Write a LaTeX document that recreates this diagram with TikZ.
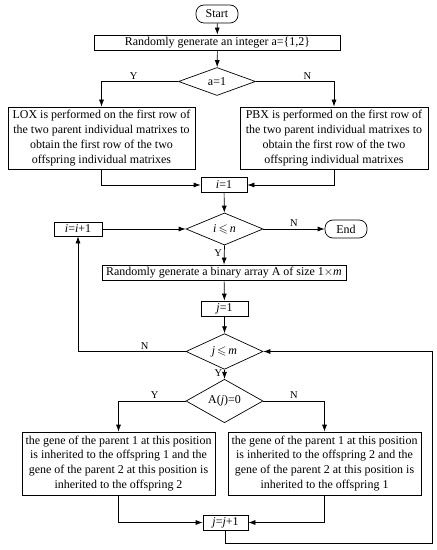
\documentclass[tikz,border=0pt]{standalone}
\usepackage{amssymb}
\usepackage{fontspec}
\setmainfont{Liberation Serif}
\usetikzlibrary{shapes.geometric,arrows.meta}

\begin{document}
\begin{tikzpicture}[x=1bp,y=-1bp,
    font=\fontsize{12}{15}\selectfont,
    line width=0.7bp,
    kasten/.style={draw, inner sep=0pt, minimum height=15bp},
    textkasten/.style={draw, inner sep=1pt, align=center, minimum height=62bp},
    raute/.style={draw, diamond, inner sep=0pt, minimum width=77bp, minimum height=28bp},
    terminal/.style={draw, rounded corners=8bp, inner sep=0pt, minimum width=42bp, minimum height=18bp},
    pfeil/.style={-{Latex[length=7bp,width=5bp]}},
    marke/.style={font=\fontsize{10.5}{12}\selectfont, inner sep=2pt}]

    % Rahmen
    \useasboundingbox (0,0) rectangle (437,550);

    % Oberer Teil
    \node[terminal] (start) at (217,14) {Start};
    \node[kasten, minimum width=246bp] (zufalla) at (217.5,42.5) {Randomly generate an integer a=\{1,2\}};
    \node[raute] (fraga) at (217,81.5) {a=1};
    \node[textkasten, minimum width=187bp] (lox) at (101.5,138)
        {LOX is performed on the first row of\\ the two parent individual matrixes to\\ obtain the first row of the two\\ offspring individual matrixes};
    \node[textkasten, minimum width=188bp] (pbx) at (334,138)
        {PBX is performed on the first row of\\ the two parent individual matrixes to\\ obtain the first row of the two\\ offspring individual matrixes};

    % Schleife ueber i
    \node[kasten, minimum width=46bp] (ieins) at (224,185) {\textit{i}=1};
    \node[raute] (fragi) at (224.5,229) {\textit{i}\,$\leqslant$\,\textit{n}};
    \node[terminal] (ende) at (346,229) {End};
    \node[kasten, minimum width=48bp, minimum height=14bp] (iplus) at (78,229) {\textit{i}=\textit{i}+1};
    \node[kasten, minimum width=244bp] (zufallb) at (224,272.5) {Randomly generate a binary array A of size 1$\times$\textit{m}};

    % Schleife ueber j
    \node[kasten, minimum width=47bp] (jeins) at (224.5,308.5) {\textit{j}=1};
    \node[raute, minimum height=29bp] (fragj) at (224.5,351.5) {\textit{j}\,$\leqslant$\,\textit{m}};
    \node[raute] (fragA) at (224.5,401) {A(\textit{j})=0};
    \node[textkasten, minimum width=193bp, minimum height=63bp] (links) at (118.5,463.5)
        {the gene of the parent 1 at this position\\ is inherited to the offspring 1 and the\\ gene of the parent 2 at this position is\\ inherited to the offspring 2};
    \node[textkasten, minimum width=193bp, minimum height=63bp] (rechts) at (324.5,463.5)
        {the gene of the parent 1 at this position\\ is inherited to the offspring 2 and the\\ gene of the parent 2 at this position is\\ inherited to the offspring 1};
    \node[kasten, minimum width=45bp] (jplus) at (225.5,522.5) {\textit{j}=\textit{j}+1};
    \coordinate (ecke) at (432,543);

    % Verbindungen
    \draw[pfeil] (start) -- (zufalla);
    \draw[pfeil] (zufalla) -- (fraga);
    \draw[pfeil] (fraga.west) -| node[marke, pos=0.29, above] {Y} (lox.north);
    \draw[pfeil] (fraga.east) -| node[marke, pos=0.33, above] {N} (pbx.north);
    \draw[pfeil] (lox.south) |- (ieins.west);
    \draw[pfeil] (pbx.south) |- (ieins.east);
    \draw[pfeil] (ieins) -- (fragi);
    \draw[pfeil] (fragi.east) -- node[marke, pos=0.5, above] {N} (ende.west);
    \draw[pfeil] (fragi.south) -- node[marke, pos=0.4, left] {Y} (zufallb.north);
    \draw[pfeil] (iplus.east) -- (fragi.west);
    \draw[pfeil] (zufallb) -- (jeins);
    \draw[pfeil] (jeins) -- (fragj);
    \draw[pfeil] (fragj.west) -| node[marke, pos=0.19, above] {N} (iplus.south);
    \draw[pfeil] (fragj.south) -- node[marke, pos=0.4, left] {Y} (fragA.north);
    \draw[pfeil] (fragA.west) -| node[marke, pos=0.23, above] {Y} (links.north);
    \draw[pfeil] (fragA.east) -| node[marke, pos=0.25, above] {N} (rechts.north);
    \draw[pfeil] (links.south) |- (jplus.west);
    \draw[pfeil] (rechts.south) |- (jplus.east);
    \draw[pfeil] (jplus.south) |- (ecke) |- (fragj.east);
\end{tikzpicture}
\end{document}
